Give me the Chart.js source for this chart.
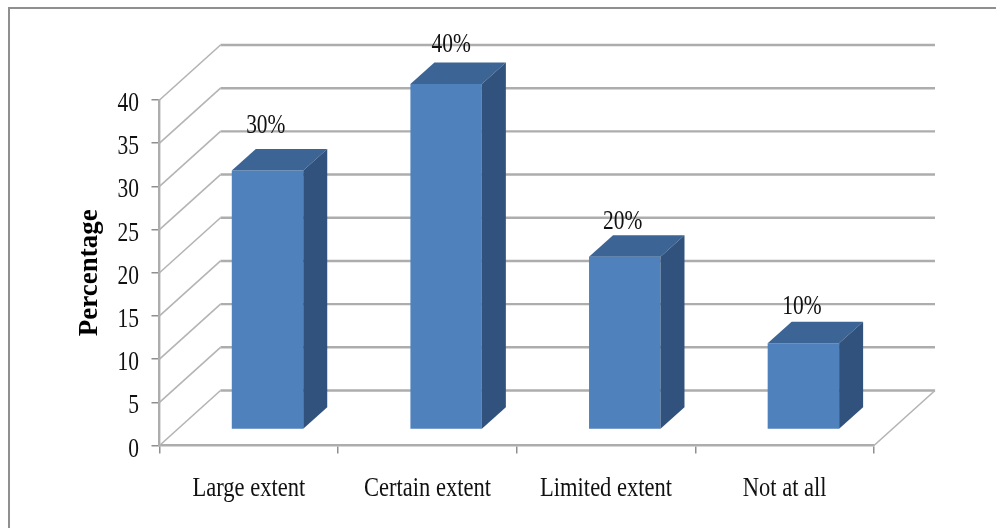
<!DOCTYPE html>
<html>
<head>
<meta charset="utf-8">
<style>
  html, body { margin: 0; padding: 0; background: #ffffff; }
  #wrap { position: relative; width: 996px; height: 528px; }
</style>
<script src="https://cdn.jsdelivr.net/npm/chart.js@4/dist/chart.umd.min.js"></script>
</head>
<body>
<div id="wrap"><canvas id="chart" width="996" height="528"></canvas></div>
<script>
const categories = ['Large extent', 'Certain extent', 'Limited extent', 'Not at all'];
const percentages = [30, 40, 20, 10];
const yAxisTitle = 'Percentage';

// Placement of each value label relative to its bar's top face, in pixels.
const labelGap = [15.5, 11, 6.5, 7.5];
const labelShift = [-1.7, 5, -2, -1.5];

// Oblique projection of the 3D look, in pixels.
const WALL_DX = 61, WALL_DY = -55;
const BAR_SHIFT_X = 18.7, BAR_SHIFT_Y = -16;
const BAR_DX = 24, BAR_DY = -21.5;

const SERIF = '"Liberation Serif", "Times New Roman", serif';
const INK = '#111111';
const GRID = '#adadad', DIAGONAL = '#b4b4b4', TICK = '#8f8f8f';
const FRONT = '#4f81bd', TOP = '#3c6494', SIDE = '#31527c';
const TEXT_SIZE = 26.5, NUMBER_SQUEEZE = 0.81, CATEGORY_SQUEEZE = 0.85;

// Tall, narrow serif text shared by the axis and value labels.
function narrowText(c, text, x, y, align, squeeze) {
  c.save();
  c.translate(x, y);
  c.scale(squeeze, 1);
  c.font = TEXT_SIZE + 'px ' + SERIF;
  c.fillStyle = INK;
  c.textAlign = align;
  c.textBaseline = 'alphabetic';
  c.fillText(text, 0, 0);
  c.restore();
}

const frame = {
  id: 'frame',
  beforeDraw(chart) {
    const c = chart.ctx;
    c.save();
    c.fillStyle = '#ffffff';
    c.fillRect(0, 0, chart.width, chart.height);
    c.strokeStyle = '#8f8f8f';
    c.lineWidth = 2;
    c.beginPath();
    c.moveTo(9, chart.height);
    c.lineTo(9, 8);
    c.lineTo(chart.width, 8);
    c.stroke();
    c.restore();
  }
};

// Side wall, back wall and floor outline, positioned from the value scale.
const walls = {
  id: 'walls',
  beforeDatasetsDraw(chart) {
    const c = chart.ctx, y = chart.scales.y, a = chart.chartArea;
    c.save();
    y.ticks.forEach(t => {
      const py = y.getPixelForValue(t.value);
      c.strokeStyle = DIAGONAL;
      c.lineWidth = 1.6;
      c.beginPath();
      c.moveTo(a.left, py);
      c.lineTo(a.left + WALL_DX, py + WALL_DY);
      c.stroke();
      c.strokeStyle = GRID;
      c.lineWidth = 2.4;
      c.beginPath();
      c.moveTo(a.left + WALL_DX, py + WALL_DY);
      c.lineTo(a.right + WALL_DX, py + WALL_DY);
      c.stroke();
    });
    const y0 = y.getPixelForValue(0);
    c.strokeStyle = DIAGONAL;
    c.lineWidth = 1.6;
    c.beginPath();
    c.moveTo(a.right, y0);
    c.lineTo(a.right + WALL_DX, y0 + WALL_DY);
    c.stroke();
    c.restore();
  }
};

// The library paints each front face; this shifts it into the depth of the
// floor and adds the top and side faces around the same bar geometry.
const solidBars = {
  id: 'solidBars',
  beforeDatasetDraw(chart) {
    chart.ctx.save();
    chart.ctx.translate(BAR_SHIFT_X, BAR_SHIFT_Y);
  },
  afterDatasetDraw(chart, args) {
    const c = chart.ctx;
    args.meta.data.forEach(bar => {
      const l = bar.x - bar.width / 2, r = bar.x + bar.width / 2;
      const t = bar.y, b = bar.base;
      c.fillStyle = TOP;
      c.beginPath();
      c.moveTo(l, t);
      c.lineTo(l + BAR_DX, t + BAR_DY);
      c.lineTo(r + BAR_DX, t + BAR_DY);
      c.lineTo(r, t);
      c.closePath();
      c.fill();
      c.fillStyle = SIDE;
      c.beginPath();
      c.moveTo(r, t);
      c.lineTo(r + BAR_DX, t + BAR_DY);
      c.lineTo(r + BAR_DX, b + BAR_DY);
      c.lineTo(r, b);
      c.closePath();
      c.fill();
    });
    c.restore();
  },
  afterDatasetsDraw(chart) {
    const c = chart.ctx;
    chart.getDatasetMeta(0).data.forEach((bar, i) => {
      const x = bar.x + BAR_SHIFT_X + labelShift[i];
      const y = bar.y + BAR_SHIFT_Y + BAR_DY - labelGap[i];
      narrowText(c, percentages[i] + '%', x, y, 'center', NUMBER_SQUEEZE);
    });
  }
};

// Tick labels placed from the two scales.
const axisLabels = {
  id: 'axisLabels',
  afterDraw(chart) {
    const c = chart.ctx, xs = chart.scales.x, ys = chart.scales.y;
    ys.ticks.forEach(t => {
      narrowText(c, t.label, 139, ys.getPixelForValue(t.value) + 11, 'right', NUMBER_SQUEEZE);
    });
    categories.forEach((name, i) => {
      narrowText(c, name, xs.getPixelForValue(i), 496, 'center', CATEGORY_SQUEEZE);
    });
  }
};

new Chart(document.getElementById('chart'), {
  type: 'bar',
  data: {
    labels: categories,
    datasets: [{
      data: percentages,
      backgroundColor: FRONT,
      borderWidth: 0,
      barPercentage: 0.4,
      categoryPercentage: 1
    }]
  },
  plugins: [frame, walls, solidBars, axisLabels],
  options: {
    responsive: false,
    animation: false,
    layout: { padding: { left: 73.5, right: 122, top: 100, bottom: 0 } },
    plugins: { legend: { display: false }, tooltip: { enabled: false } },
    scales: {
      x: {
        grid: {
          display: true, offset: true, drawOnChartArea: false,
          drawTicks: true, tickLength: 8, tickColor: TICK, tickWidth: 1.5,
          color: GRID, lineWidth: 1.5
        },
        border: { display: true, color: GRID, width: 2.4 },
        ticks: { display: false },
        afterFit(axis) { axis.height = 82.5; }
      },
      y: {
        min: 0, max: 40,
        grid: {
          display: true, drawOnChartArea: false,
          drawTicks: true, tickLength: 8, tickColor: TICK, tickWidth: 1.5,
          color: GRID, lineWidth: 1.5
        },
        border: { display: true, color: GRID, width: 2.4 },
        ticks: { display: false, stepSize: 5 },
        title: {
          display: true, text: yAxisTitle, color: '#000000', padding: 0,
          font: { family: SERIF, size: 27, weight: 'bold' }
        },
        afterFit(axis) { axis.width = 86; }
      }
    }
  }
});
</script>
</body>
</html>
